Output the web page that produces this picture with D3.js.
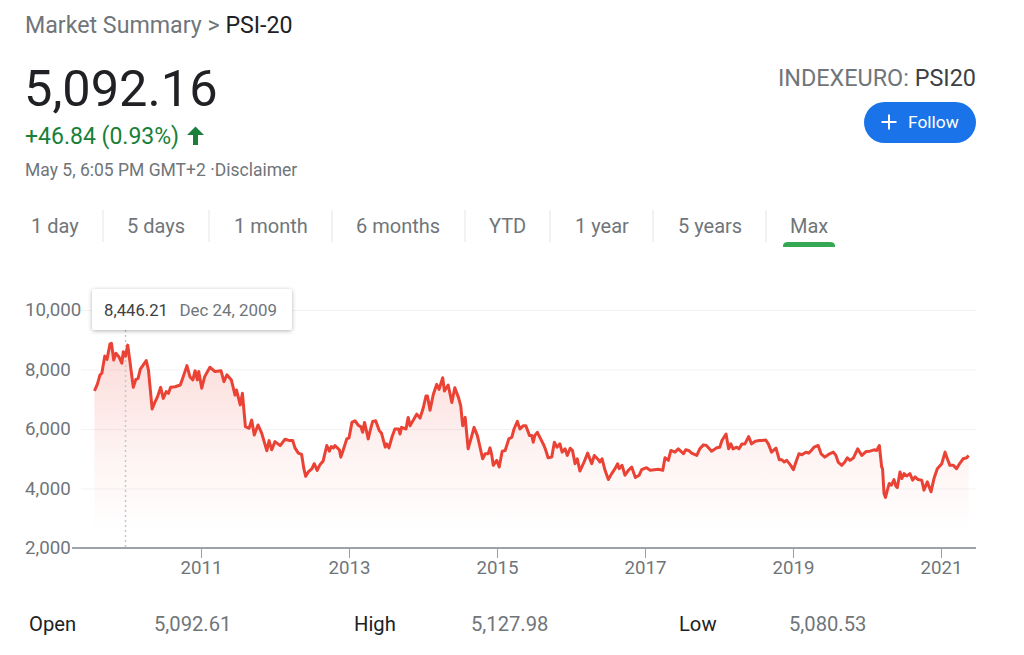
<!DOCTYPE html>
<html>
<head>
<meta charset="utf-8">
<script src="https://cdn.jsdelivr.net/npm/d3@7"></script>
<style>
  html, body { margin: 0; padding: 0; background: #fff; }
  text { font-family: Roboto, sans-serif; }
</style>
</head>
<body>
<div id="wrapper"></div>
<script>
// values, year as a decimal
const years = [
  2009.56,2009.60,2009.635,2009.66,2009.70,2009.73,2009.77,2009.79,2009.82,2009.85,2009.89,2009.93,2009.95,2009.98,2010.01,2010.04,2010.085,2010.12,2010.15,2010.18,2010.26,2010.29,2010.34,2010.38,2010.41,2010.455,2010.49,2010.53,2010.56,2010.59,2010.65,2010.72,2010.76,2010.81,2010.85,2010.89,2010.92,2010.95,2010.97,
  2011.01,2011.05,2011.12,2011.19,2011.27,2011.31,2011.35,2011.41,2011.46,2011.48,2011.53,2011.56,2011.60,2011.65,2011.685,2011.72,2011.77,2011.82,2011.89,2011.92,2011.955,2012.00,2012.07,2012.135,2012.20,2012.24,2012.27,2012.315,2012.36,2012.39,2012.415,2012.45,2012.50,2012.53,2012.57,2012.61,2012.65,2012.70,2012.735,2012.76,2012.79,2012.81,2012.87,2012.89,2012.92,2012.97,
  2013.00,2013.04,2013.08,2013.13,2013.16,2013.185,2013.21,2013.26,2013.28,2013.32,2013.36,2013.41,2013.44,2013.49,2013.51,2013.54,2013.58,2013.62,2013.67,2013.69,2013.71,2013.77,2013.80,2013.825,2013.87,2013.915,2013.96,2014.005,2014.04,2014.06,2014.095,2014.14,2014.185,2014.217,2014.266,2014.29,2014.34,2014.39,2014.43,2014.48,2014.51,2014.536,2014.57,2014.61,2014.66,2014.69,2014.735,2014.806,2014.84,2014.88,2014.906,2014.93,2014.95,2014.996,
  2015.03,2015.07,2015.11,2015.16,2015.20,2015.23,2015.275,2015.31,2015.356,2015.39,2015.44,2015.47,2015.49,2015.51,2015.545,2015.59,2015.635,2015.66,2015.69,2015.74,2015.775,2015.81,2015.85,2015.88,2015.92,2015.95,2015.99,2016.02,2016.055,2016.085,2016.12,2016.167,2016.225,2016.28,2016.315,2016.37,2016.39,2016.42,2016.46,2016.505,2016.55,2016.595,2016.63,2016.65,2016.69,2016.73,2016.775,2016.82,2016.87,2016.92,2016.955,
  2017.02,2017.07,2017.18,2017.24,2017.27,2017.315,2017.35,2017.405,2017.45,2017.52,2017.55,2017.59,2017.63,2017.70,2017.74,2017.79,2017.83,2017.90,2017.97,2018.01,2018.04,2018.095,2018.13,2018.16,2018.19,2018.24,2018.27,2018.31,2018.35,2018.40,2018.44,2018.49,2018.545,2018.58,2018.63,2018.667,2018.71,2018.77,2018.815,2018.85,2018.88,2018.915,2018.97,
  2019.005,2019.04,2019.08,2019.12,2019.175,2019.21,2019.24,2019.284,2019.34,2019.38,2019.43,2019.48,2019.545,2019.58,2019.61,2019.66,2019.70,2019.734,2019.77,2019.815,2019.874,2019.93,2019.99,2020.04,2020.095,2020.13,2020.167,2020.198,2020.21,2020.23,2020.25,2020.275,2020.30,2020.33,2020.365,2020.39,2020.41,2020.446,2020.47,2020.50,2020.536,2020.58,2020.617,2020.65,2020.69,2020.74,2020.77,2020.815,2020.865,2020.905,2020.95,
  2021.01,2021.055,2021.086,2021.12,2021.167,2021.21,2021.257,2021.30,2021.347,2021.374
]
const prices = [
  7280,7510,7820,7870,8450,8340,8860,8880,8320,8545,8430,8210,8600,8446,8820,8260,7400,7670,7700,8010,8300,7980,6670,6920,7070,7400,7030,7255,7200,7400,7420,7480,7760,8130,7760,7650,7960,7650,7930,
  7370,7760,8075,7930,7960,7590,7820,7650,7140,7310,6810,7200,6080,6025,6300,5800,6135,5860,5270,5610,5300,5575,5440,5655,5610,5610,5367,5190,5145,4667,4410,4555,4667,4833,4610,4810,4920,5445,5255,5410,5367,5445,5300,5055,5280,5667,
  5700,6222,6278,6111,6078,5889,6222,5667,5889,6255,6278,5945,5855,5390,5500,5367,5722,6000,6000,5833,6055,6000,6390,6110,6300,6500,6367,6722,7110,7110,6633,7167,7500,7333,7722,7278,7478,6889,7389,7055,6778,6110,6390,5333,5778,6055,5778,5000,5167,5167,5367,5111,4778,4945,
  4722,5255,5278,5667,5722,6000,6255,6000,6111,6111,5778,5778,5555,5778,5889,5667,5445,5278,5033,5055,5555,5389,5500,5222,5333,5111,5355,5278,4833,5000,4589,4833,5189,4833,5111,4967,4889,5000,4611,4300,4500,4667,4833,4667,4778,4445,4611,4722,4367,4445,4633,
  4700,4611,4645,4611,5033,4945,5278,5222,5333,5167,5300,5278,5189,5111,5333,5467,5445,5255,5367,5389,5611,5833,5333,5500,5333,5389,5333,5500,5500,5744,5500,5589,5611,5611,5633,5500,5222,5355,4967,4967,4889,4945,4778,
  4633,4889,5167,5133,5222,5189,5255,5389,5445,5167,5055,5145,5222,5111,4889,4778,4889,5033,4945,5022,5333,5111,5245,5255,5300,5278,5445,4722,4667,3833,3700,3945,4167,4111,4300,4078,4033,4555,4333,4500,4422,4500,4278,4389,4300,4278,3945,4222,3889,4333,4667,
  4833,5222,5000,4778,4778,4667,4855,5000,5033,5111
]
const yTicks = [2000, 4000, 6000, 8000, 10000]
const xTicks = [2011, 2013, 2015, 2017, 2019, 2021]
const rangeLabels = ["1 day", "5 days", "1 month", "6 months", "YTD", "1 year", "5 years", "Max"]
const statLabels = ["Open", "High", "Low"]
const statValues = ["5,092.61", "5,127.98", "5,080.53"]
const tooltipYear = 2009.98
const tooltipValue = "8,446.21"
const tooltipDate = "Dec 24, 2009"

const width = 1024
const height = 655

const svg = d3.select("#wrapper")
  .append("svg")
    .attr("width", width)
    .attr("height", height)
    .style("display", "block")

// x: 74px per year, 2011 sits at 201
const x = d3.scaleLinear().domain([2011, 2021]).range([201, 941])
const y = d3.scaleLinear().domain([2000, 10000]).range([548, 310])

const grey = "#70757a"
const dark = "#202124"

// header
const crumb = svg.append("text").attr("x", 25).attr("y", 33).attr("font-size", 23.2).attr("fill", grey)
crumb.append("tspan").text("Market Summary > ")
crumb.append("tspan").attr("fill", dark).text("PSI-20")

svg.append("text").attr("x", 24).attr("y", 106).attr("font-size", 50.5)
  .attr("fill", dark).text("5,092.16")

svg.append("text").attr("x", 25).attr("y", 144).attr("font-size", 23)
  .attr("fill", "#188038").text("+46.84 (0.93%)")
svg.append("path")
  .attr("d", "M187 135 L195.5 126.5 L204 135 L198 135 L198 145 L193 145 L193 135 Z")
  .attr("fill", "#188038")

svg.append("text").attr("x", 25).attr("y", 176).attr("font-size", 17.5)
  .attr("fill", grey).text("May 5, 6:05 PM GMT+2 ·Disclaimer")

const ticker = svg.append("text").attr("x", 976).attr("y", 86).attr("text-anchor", "end")
  .attr("font-size", 23.4).attr("fill", grey)
ticker.append("tspan").text("INDEXEURO: ")
ticker.append("tspan").attr("fill", "#3c4043").text("PSI20")

// follow button
svg.append("rect").attr("x", 864).attr("y", 102).attr("width", 112).attr("height", 41)
  .attr("rx", 20.5).attr("fill", "#1a73e8")
svg.append("path").attr("d", "M881.5 122 H896.5 M889 114.5 V129.5")
  .attr("stroke", "#fff").attr("stroke-width", 2)
svg.append("text").attr("x", 908).attr("y", 128).attr("font-size", 17.4)
  .attr("fill", "#fff").text("Follow")

// range tabs
const tabX = [31, 127, 234, 356, 489, 575, 678, 790]
const sepX = [103, 209, 332, 465, 550, 653, 766]
svg.selectAll(".tab")
  .data(rangeLabels)
  .join("text")
    .attr("class", "tab")
    .attr("x", (d, i) => tabX[i])
    .attr("y", 233)
    .attr("font-size", 20)
    .attr("fill", grey)
    .text(d => d)
svg.selectAll(".sep")
  .data(sepX)
  .join("line")
    .attr("class", "sep")
    .attr("x1", d => d).attr("x2", d => d)
    .attr("y1", 210).attr("y2", 242)
    .attr("stroke", "#e3e5e8")
svg.append("path")
  .attr("d", "M783 247 V246 Q783 242 788 242 H830 Q835 242 835 246 V247 Z")
  .attr("fill", "#34a853")

// y axis, gridlines
svg.append("g")
  .attr("transform", "translate(81,0)")
  .call(d3.axisLeft(y).tickValues(yTicks).tickSize(-895).tickFormat(d3.format(",")))
  .call(g => g.select(".domain").remove())
  .call(g => g.selectAll(".tick line").attr("stroke", "#f1f3f4"))
  .call(g => g.selectAll(".tick text")
    .attr("x", -56)
    .attr("text-anchor", "start")
    .attr("font-size", 18.7)
    .attr("font-family", "Roboto, sans-serif")
    .attr("fill", grey))

// area + line
const gradient = svg.append("defs").append("linearGradient")
  .attr("id", "fade")
  .attr("gradientUnits", "userSpaceOnUse")
  .attr("x1", 0).attr("x2", 0)
  .attr("y1", y(9000)).attr("y2", y(2500))
gradient.append("stop").attr("offset", 0).attr("stop-color", "#ea4335").attr("stop-opacity", 0.2)
gradient.append("stop").attr("offset", 0.6).attr("stop-color", "#ea4335").attr("stop-opacity", 0.06)
gradient.append("stop").attr("offset", 1).attr("stop-color", "#ea4335").attr("stop-opacity", 0)

const area = d3.area()
  .x((d, i) => x(years[i]))
  .y0(y(2000))
  .y1(d => y(d))
const line = d3.line()
  .x((d, i) => x(years[i]))
  .y(d => y(d))

svg.append("path").datum(prices).attr("d", area).attr("fill", "url(#fade)")

// tooltip guide goes under the line
svg.append("line")
  .attr("x1", x(tooltipYear)).attr("x2", x(tooltipYear))
  .attr("y1", 330).attr("y2", y(2000))
  .attr("stroke", "#c4c7ca")
  .attr("stroke-width", 1.5)
  .attr("stroke-dasharray", "2,3")

svg.append("path").datum(prices)
  .attr("d", line)
  .attr("fill", "none")
  .attr("stroke", "#ea4335")
  .attr("stroke-width", 3)
  .attr("stroke-linejoin", "round")

// x axis
svg.append("g")
  .attr("transform", `translate(0,${y(2000)})`)
  .call(d3.axisBottom(x).tickValues(xTicks).tickSize(10).tickFormat(d3.format("d")))
  .call(g => g.select(".domain").attr("d", "M72 0 H976").attr("stroke", "#80868b").attr("stroke-width", 1.6))
  .call(g => g.selectAll(".tick line").attr("stroke", "#9aa0a6"))
  .call(g => g.selectAll(".tick text")
    .attr("y", 13)
    .attr("font-size", 18.7)
    .attr("font-family", "Roboto, sans-serif")
    .attr("fill", grey))

// tooltip
const shadow = svg.select("defs").append("filter").attr("id", "shadow")
  .attr("x", "-10%").attr("y", "-20%").attr("width", "120%").attr("height", "150%")
shadow.append("feDropShadow").attr("dx", 0).attr("dy", 1).attr("stdDeviation", 2)
  .attr("flood-color", "#000").attr("flood-opacity", 0.3)
svg.append("rect").attr("x", 92).attr("y", 289).attr("width", 200).attr("height", 41)
  .attr("rx", 3).attr("fill", "#fff").attr("filter", "url(#shadow)")
svg.append("text").attr("x", 104).attr("y", 315.5).attr("font-size", 16.7)
  .attr("fill", "#3c4043").text(tooltipValue)
svg.append("text").attr("x", 179.5).attr("y", 315.5).attr("font-size", 16.9)
  .attr("fill", grey).text(tooltipDate)

// open / high / low
const statLabelX = [29, 354, 679]
const statValueX = [154, 471, 789]
svg.selectAll(".stat-label")
  .data(statLabels)
  .join("text")
    .attr("class", "stat-label")
    .attr("x", (d, i) => statLabelX[i])
    .attr("y", 631)
    .attr("font-size", 20.2)
    .attr("fill", dark)
    .text(d => d)
svg.selectAll(".stat-value")
  .data(statValues)
  .join("text")
    .attr("class", "stat-value")
    .attr("x", (d, i) => statValueX[i])
    .attr("y", 631)
    .attr("font-size", 20.2)
    .attr("fill", grey)
    .text(d => d)
</script>
</body>
</html>
